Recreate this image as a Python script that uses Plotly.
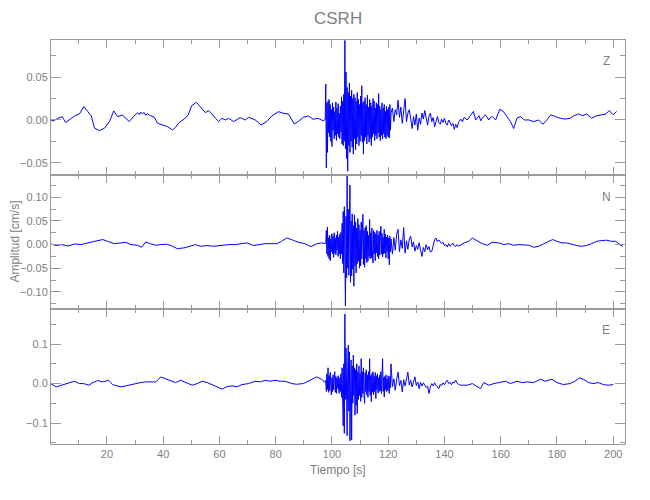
import plotly.graph_objects as go
from plotly.subplots import make_subplots

# Amplitudes below are in units of 1e-3 cm/s
AMP_UNIT = 1e-3

# Sampling of the strong-motion part (event) and of the coda
EVT_T0, EVT_DT = 97.8, 0.2
CODA_T0, CODA_DT = 121.5, 0.5

# ---------------- Z component ----------------
z_pre = [(0, 0), (0.8, -1.2), (2.5, 1.9), (4.1, 3.9), (5.3, -3.1), (6.7, 0), (8.5, 4.7),
         (10.2, 7.0), (11.8, 15.6), (13.2, 9.7), (14.4, 4.7), (15.6, -9.7), (17.3, -12.5),
         (19.1, -9.7), (20.9, -1.9), (22.4, 10.5), (23.8, 3.9), (25.5, 5.8), (26.7, 1.9),
         (27.9, -1.9), (29.4, 3.9), (30.9, 8.6), (31.5, 6.2), (32.0, 9.2), (32.6, 7.0),
         (33.2, 8.8), (33.8, 5.4), (34.4, 7.6), (35.0, 5.8), (36.8, 3.1), (38.0, -3.9),
         (39.7, -5.8), (41.5, -7.8), (43.3, -11.7), (44.4, -8.6), (45.6, -3.1), (47.4, 0.8),
         (48.9, 5.8), (50.1, 16.7), (51.8, 20.6), (53.2, 15.6), (55.0, 8.6), (56.2, 10.9),
         (58.0, 4.7), (59.7, -1.9), (60.9, 1.9), (62.1, 0), (63.3, 1.9), (65.0, -1.9),
         (67.4, 2.7), (69.2, 0), (70.4, 3.1), (72.7, 0), (74.8, -5.8), (76.8, -1.9),
         (78.6, 4.7), (81.0, 9.7), (82.7, 7.8), (84.5, 7.0), (86.6, -4.7), (88.0, -1.9),
         (89.8, 3.1), (91.6, 4.7), (93.3, 0.8), (95.1, 1.9), (96.9, -1.0), (97.6, 0.5)]
z_evt = [42, -56, 20, -38, 22, -15, 24, -20, 18, -25,
         12, -31, 20, -12, 15, -22, 10, -18, 21, -24,
         14, -16, 19, -20, 8, -22, 16, -14, 27, -28,
         22, -30, 30, -25, 93, -34, 56, -45, 38, -60,
         32, -30, 43, -38, 28, -25, 35, -32, 25, -40,
         30, -22, 26, -35, 22, -28, 32, -20, 24, -30,
         18, -25, 28, -18, 40, -26, 20, -40, 22, -24,
         26, -20, 18, -28, 29, -18, 15, -26, 24, -22,
         20, -30, 16, -20, 25, -16, 22, -24, 14, -18,
         20, -22, 18, -15, 31, -20, 16, -24, 12, -18,
         20, -22, 14, -16, 18, -20, 10, -22, 16, -18,
         12, -20, 15, -21, 18, -12, 8]
z_coda = [14, -2, 12, 6, 23, 3, 15, -4, 12, 25,
          -2, 8, 12, -3, -10, 4, -6, 7, -12, 2,
          -5, 8, 1, 11, 2, -6, 4, 8, -2, 3,
          -8, 0, 4, -3, -5, 1, -3, 2, -4, -6,
          0, -3, -7, -4, -11, -5, -9, -3]
z_post = [(145.8, 1), (146.4, -2), (147.0, 3), (148.1, 0), (148.7, 3), (149.3, 5), (150.3, 10),
          (151.1, 0), (152.3, 5), (152.9, -1), (153.4, 2), (154.6, 6), (155.8, 0),
          (156.4, 3), (157.0, 4), (158.2, 0), (159.7, 12.5), (160.9, 10), (162.0, 5),
          (163.5, -2), (164.6, -10), (165.8, 2), (167.0, 4), (168.4, 0), (170.0, 0),
          (171.7, -2), (173.5, 0), (175.0, -5), (176.4, 0), (177.8, 6), (179.4, 4),
          (181.1, 2), (182.9, 1), (184.7, 2), (186.1, 5), (187.6, 7), (189.2, 5),
          (190.6, 7), (192.3, 2), (194.1, 5), (195.9, 6), (197.4, 7), (198.6, 11),
          (200.0, 6), (201.2, 10)]

# ---------------- N component ----------------
n_pre = [(0, 1.4), (2.0, -2), (3.8, 0), (6.1, -3), (8.5, 1.4), (10.8, 0), (13.2, 3.6),
         (15.6, 7), (18.5, 10.7), (20.2, 7), (22.6, 2), (25.0, 3.6), (26.7, 5), (28.5, 0),
         (30.9, -1.4), (32.3, -5.7), (33.8, 5.7), (35.6, 1.4), (37.4, -1.4), (39.1, 0),
         (41.5, 0.7), (43.3, -3.6), (45.0, -8.5), (47.4, -7), (49.1, -3.6), (51.5, 0),
         (53.3, -3.6), (55.6, -2), (58.0, -3.6), (60.3, -2), (63.3, 0), (65.6, 0),
         (67.8, 2), (69.8, 3.6), (72.1, -2), (73.9, 0), (76.3, 2), (78.6, 2), (80.4, 2),
         (82.1, 7), (83.9, 14), (85.6, 10.7), (88.0, 5), (90.4, 2), (92.5, -4.3),
         (94.5, 1.4), (96.3, 3.6), (97.6, 2)]
n_evt = [5, 30, -20, 37, -25, 15, -30, 20, -34, 12,
         -15, 23, -20, 18, -27, 25, -18, 14, -22, 20,
         -12, 28, -25, 16, -20, 22, -30, 26, -20, 45,
         -40, 70, -60, 80, -88, -130, 60, -70, 145, -50,
         75, -65, 40, 126, -80, 50, -66, 65, -52, 40,
         -88, 63, -45, 48, -60, 35, -40, 55, -35, 42,
         -50, 30, -45, 48, -30, 38, 64, -42, 30, -48,
         36, -30, 40, -38, 28, -35, 20, -25, 53, -30,
         25, -28, 35, -22, -39, 30, -20, 26, -34, 22,
         -18, 30, -25, 20, -30, 28, -22, 18, 39, -20,
         24, -26, 15, -20, 32, -18, 22, -28, 16, -15,
         20, -30, 14, -43, 18, -15, 12]
n_coda = [-20, 15, -12, 22, 32, -15, 10, -8, 36, -18,
          8, -10, 12, 18, -5, 6, -14, -2, -10, 4,
          -12, -25, -6, -15, 0, -11, -4, -16, -14, 2,
          10, 14, 6, 10, 7, 2, 5, -2, 0, -5,
          2, -3.6, -1, 3, -2, -4, 0, -3.6]
n_post = [(147.0, 3.6), (148.7, 7), (149.9, 14), (151.7, 7), (153.4, 2), (155.2, -1.4),
          (157.0, 5), (159.3, 3.6), (161.1, 0), (162.9, 2), (164.6, -1.4), (166.4, 0),
          (168.2, 0), (170.0, -1.4), (171.7, -5.7), (173.5, -3.6), (175.2, 1.4),
          (177.0, 7), (178.5, 10.7), (180.0, 7), (181.7, 3.6), (183.5, 3.6), (185.3, 0),
          (187.0, -2), (188.8, -3.6), (190.6, -2), (192.3, 2), (194.1, 7), (195.9, 8.5),
          (197.6, 9.3), (199.4, 7), (200.9, 7), (202.4, 0), (203.5, -3.6)]

# ---------------- E component ----------------
e_pre = [(0, 0), (2.0, -8.4), (3.8, -4.2), (6.1, 0), (8.5, 5.9), (10.2, 0), (11.7, 0),
         (13.6, -4.2), (15.0, 2.5), (16.7, 7.6), (18.5, 4.2), (20.6, 8.4), (22.0, -2.5),
         (25.0, -8.4), (27.3, -4.2), (29.7, -0.8), (32.0, 2.5), (33.8, 4.2), (37.4, 4.2),
         (39.1, 16.8), (40.9, 12.6), (42.7, 8.4), (44.4, 2.5), (46.2, 8.4), (48.0, 2.5),
         (50.3, -4.2), (52.1, 0), (53.9, 5.9), (55.6, 2.5), (57.4, -2.5), (59.2, -8.4),
         (60.9, -14.3), (62.7, -7.6), (64.5, -5.9), (66.2, -8.4), (68.0, -2.5), (70.4, 0),
         (72.7, 5.9), (74.5, 4.2), (76.3, 8.4), (78.0, 5.9), (79.8, 8.4), (81.6, 5.9),
         (83.3, 5.9), (85.7, 0), (87.4, -1.7), (89.8, 0), (92.2, 8.4), (94.5, 16.8),
         (96.3, 11), (97.6, 2.5)]
e_evt = [8, -20, 25, -15, 40, -22, 20, -18, 28, -10,
         -29, 15, -20, 22, -16, 12, 30, -22, 18, -25,
         14, -12, 20, -18, -25, 15, -20, 25, -35, 40,
         -60, -107, 50, -126, 176, -40, 90, -60, -132, 40,
         97, -70, 80, -145, 30, 60, -143, 45, -50, 72,
         -30, 40, -80, 35, -55, 50, -76, 30, -40, 45,
         -30, 25, -45, 63, -35, 30, -25, 40, -30, -50,
         28, -20, 35, -28, 22, -35, 30, -20, 63, -30,
         20, -46, 25, -22, 30, -28, 18, -20, 28, -38,
         20, -15, 25, -24, 15, -20, 22, -18, 30, -25,
         20, 63, -20, 15, -34, 18, -15, 22, -20, 12,
         -18, 20, -15, -25, 18, -10, 50]
e_coda = [-8, 12, -17, 10, 29, -5, 8, -21, 10, -6,
          15, 29, -4, 8, -8.4, 5, 17, -5, 4, -13,
          3, -6, 2, -4, -10, -6, -25, -8, 0, -6,
          2, -4, -8, -13, -2, -5, 2, -3, 4, 8.4,
          0, 3, -3, 4, 2, 8.4, 1, -2]
e_post = [(145.8, -4.2), (148.1, -4.2), (149.9, 0), (151.7, -8.4), (152.8, -12.6),
          (154.0, 2.5), (155.8, -4.2), (157.6, 0), (159.9, 4.2), (161.7, 5.9), (163.5, 0),
          (165.8, 5.9), (167.6, 2.5), (169.4, 4.2), (171.7, 2.5), (174.1, 11), (175.8, 5.9),
          (178.2, 11), (180.0, 2.5), (182.3, -2.5), (184.7, 0), (186.4, 5.9), (188.0, 14.3),
          (189.4, 11), (191.2, 2.5), (192.9, 0), (194.7, 2.5), (196.5, -2.5), (198.2, -4.2),
          (200.0, -2.5)]

components = ["Z", "N", "E"]
x_tick_vals = [20, 40, 60, 80, 100, 120, 140, 160, 180, 200]


def series(pre, evt, coda, post):
    t = [p[0] for p in pre]
    v = [p[1] for p in pre]
    t += [EVT_T0 + i * EVT_DT for i in range(len(evt))]
    v += list(evt)
    t += [CODA_T0 + i * CODA_DT for i in range(len(coda))]
    v += list(coda)
    t += [p[0] for p in post]
    v += [p[1] for p in post]
    return t, [a * AMP_UNIT for a in v]


data = [series(z_pre, z_evt, z_coda, z_post),
        series(n_pre, n_evt, n_coda, n_post),
        series(e_pre, e_evt, e_coda, e_post)]

FONT = "Liberation Sans, Arial, sans-serif"
GREY_TXT = "#808080"
GREY_LN = "#9a9a9a"

fig = make_subplots(rows=3, cols=1, shared_xaxes=True, vertical_spacing=0)
for i, (t, v) in enumerate(data):
    fig.add_trace(go.Scatter(x=t, y=v, mode="lines", line=dict(color="#0000ff", width=1),
                             showlegend=False, hoverinfo="skip"), row=i + 1, col=1)

y_ranges = [[-0.064, 0.0935], [-0.137, 0.148], [-0.153, 0.188]]
y_dticks = [0.05, 0.05, 0.1]
y_formats = [".2f", ".2f", ".1f"]

for i in range(3):
    fig.update_xaxes(range=[0.1, 204.2], tickmode="array", tickvals=x_tick_vals,
                     ticks="inside", ticklen=8, tickcolor=GREY_LN, tickwidth=1,
                     minor=dict(ticks="inside", ticklen=4, tickcolor=GREY_LN,
                                tickmode="linear", tick0=0, dtick=10),
                     showline=True, linecolor=GREY_LN, linewidth=1, mirror="allticks",
                     showgrid=False, zeroline=False,
                     tickfont=dict(family=FONT, size=11, color=GREY_TXT),
                     row=i + 1, col=1)
    fig.update_yaxes(range=y_ranges[i], tickmode="linear", tick0=0, dtick=y_dticks[i],
                     tickformat=y_formats[i],
                     ticks="inside", ticklen=10, tickcolor=GREY_LN, tickwidth=1,
                     minor=dict(ticks="inside", ticklen=5, tickcolor=GREY_LN,
                                dtick=y_dticks[i] / 2),
                     showline=True, linecolor=GREY_LN, linewidth=1, mirror="allticks",
                     showgrid=False, zeroline=False,
                     tickfont=dict(family=FONT, size=11, color=GREY_TXT),
                     row=i + 1, col=1)

annotations = [
    dict(text="CSRH", xref="paper", yref="paper", x=0.5, y=1.052, xanchor="center",
         yanchor="middle", showarrow=False, font=dict(family=FONT, size=17, color=GREY_TXT)),
    dict(text="Tiempo [s]", xref="paper", yref="paper", x=0.5, y=-0.064, xanchor="center",
         yanchor="middle", showarrow=False, font=dict(family=FONT, size=12, color=GREY_TXT)),
    dict(text="Amplitud [cm/s]", xref="paper", yref="paper", x=-0.0635, y=0.5,
         xanchor="center", yanchor="middle", textangle=-90, showarrow=False,
         font=dict(family=FONT, size=12, color=GREY_TXT)),
]
label_y = [0.948, 0.611, 0.282]
for name, ly in zip(components, label_y):
    annotations.append(dict(text=name, xref="paper", yref="paper", x=0.967, y=ly,
                            xanchor="center", yanchor="middle", showarrow=False,
                            font=dict(family=FONT, size=12, color=GREY_TXT)))

# the page body adds an 8 px offset; margins compensate so the plot box sits at
# x 48..625, y 40..444 in the window
fig.update_layout(width=650, height=500, margin=dict(l=40, r=33, t=32, b=64),
                  paper_bgcolor="white", plot_bgcolor="white", annotations=annotations)

fig.write_html("out.html")
